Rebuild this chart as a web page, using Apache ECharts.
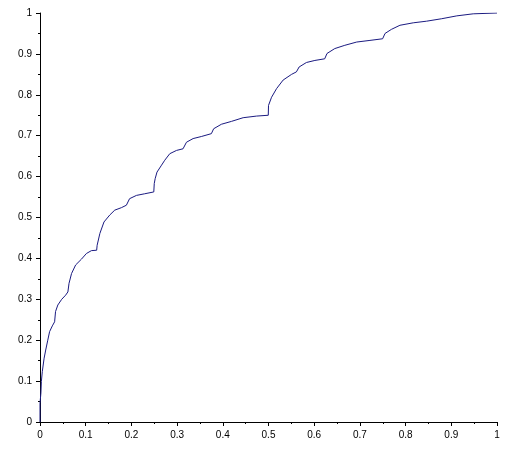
<!DOCTYPE html>
<html>
<head>
<meta charset="utf-8">
<script src="https://cdn.jsdelivr.net/npm/echarts@6/dist/echarts.min.js"></script>
<style>
html,body{margin:0;padding:0;background:#fff;}
#chart{width:519px;height:455px;}
</style>
</head>
<body>
<div id="chart"></div>
<script>
var xValues = [0, 0, 0.002, 0.003, 0.005, 0.009, 0.0125, 0.017, 0.021, 0.027, 0.032, 0.034, 0.039, 0.0475, 0.056, 0.061, 0.0625, 0.0635, 0.069, 0.078, 0.0906, 0.1016, 0.1125, 0.124, 0.125, 0.131, 0.140, 0.1526, 0.1636, 0.178, 0.189, 0.196, 0.211, 0.229, 0.249, 0.25, 0.252, 0.256, 0.266, 0.273, 0.284, 0.2987, 0.313, 0.3205, 0.335, 0.353, 0.375, 0.380, 0.397, 0.419, 0.4445, 0.474, 0.4995, 0.5, 0.5067, 0.5176, 0.532, 0.5505, 0.561, 0.567, 0.583, 0.6015, 0.623, 0.628, 0.645, 0.667, 0.693, 0.722, 0.7497, 0.755, 0.769, 0.7876, 0.8167, 0.846, 0.879, 0.912, 0.948, 1];
var yValues = [0, 0.046, 0.071, 0.099, 0.123, 0.156, 0.176, 0.2, 0.221, 0.235, 0.245, 0.27, 0.286, 0.300, 0.31, 0.318, 0.318, 0.339, 0.363, 0.384, 0.398, 0.412, 0.419, 0.420, 0.432, 0.461, 0.489, 0.506, 0.518, 0.524, 0.530, 0.546, 0.554, 0.558, 0.5625, 0.583, 0.595, 0.611, 0.628, 0.640, 0.656, 0.664, 0.668, 0.684, 0.693, 0.698, 0.705, 0.717, 0.728, 0.735, 0.744, 0.748, 0.750, 0.774, 0.794, 0.815, 0.836, 0.850, 0.856, 0.868, 0.879, 0.884, 0.888, 0.901, 0.913, 0.921, 0.929, 0.933, 0.937, 0.950, 0.960, 0.970, 0.976, 0.980, 0.986, 0.993, 0.998, 1];
var tickLabels = ['0', '0.1', '0.2', '0.3', '0.4', '0.5', '0.6', '0.7', '0.8', '0.9', '1'];

var data = xValues.map(function (x, i) { return [x, yValues[i]]; });
function fmt(v) { return tickLabels[Math.round(v * 10)]; }

var axisCommon = {
  type: 'value', min: 0, max: 1, interval: 0.1,
  axisLine: { show: true, lineStyle: { color: '#000', width: 1 } },
  axisTick: { show: true, length: 4, lineStyle: { color: '#000' } },
  minorTick: { show: true, splitNumber: 2, length: 2, lineStyle: { color: '#000' } },
  splitLine: { show: false },
  axisLabel: { formatter: fmt, color: '#000', fontSize: 10, fontFamily: 'Liberation Sans, Arial, sans-serif', margin: 8 }
};

var chart = echarts.init(document.getElementById('chart'), null, { renderer: 'canvas' });
chart.setOption({
  animation: false,
  backgroundColor: '#fff',
  grid: { left: 40, right: 22, top: 13, bottom: 33, containLabel: false },
  xAxis: Object.assign({}, axisCommon),
  yAxis: Object.assign({}, axisCommon),
  series: [{
    type: 'line',
    data: data,
    showSymbol: false,
    lineStyle: { color: '#1a1a80', width: 1 },
    smooth: false
  }]
});
</script>
</body>
</html>
